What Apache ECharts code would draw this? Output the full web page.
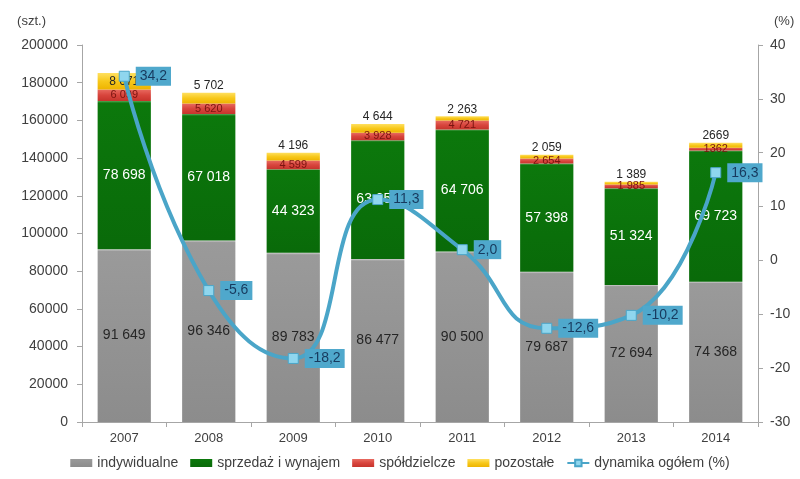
<!DOCTYPE html>
<html>
<head>
<meta charset="utf-8">
<script src="https://cdn.jsdelivr.net/npm/echarts@6/dist/echarts.min.js"></script>
<style>
html,body{margin:0;padding:0;background:#fff;}
#c{width:800px;height:479px;}
</style>
</head>
<body>
<div id="c"></div>
<script>
var years = ['2007','2008','2009','2010','2011','2012','2013','2014'];
var indywidualne = [91649, 96346, 89783, 86477, 90500, 79687, 72694, 74368];
var sprzedaz = [78698, 67018, 44323, 63051, 64706, 57398, 51324, 69723];
var spoldzielcze = [6099, 5620, 4599, 3928, 4721, 2654, 1985, 1362];
var pozostale = [8671, 5702, 4196, 4644, 2263, 2059, 1389, 2669];
var spoldzielczeLabels = ['6 099','5 620','4 599','3 928','4 721','2 654','1 985','1362'];
var pozostaleLabels = ['8 671','5 702','4 196','4 644','2 263','2 059','1 389','2669'];
var dynamika = [34.2, -5.6, -18.2, 11.3, 2.0, -12.6, -10.2, 16.3];
var leftTicks = [0, 20000, 40000, 60000, 80000, 100000, 120000, 140000, 160000, 180000, 200000];
var rightTicks = [-30, -20, -10, 0, 10, 20, 30, 40];

function fmt(v){ return String(v).replace(/\B(?=(\d{3})+(?!\d))/g, ' '); }

var FONT = 'Liberation Sans';
var chart = echarts.init(document.getElementById('c'));
var axisColor = '#a6a6a6';
var txt = '#404040';

var option = {
  backgroundColor: '#fff',
  textStyle: {fontFamily: FONT},
  animation: false,
  grid: {left: 82, right: 42, top: 45, bottom: 57},
  legend: {
    bottom: 4,
    left: 'center',
    itemGap: 12,
    itemWidth: 22,
    itemHeight: 8,
    textStyle: {color: txt, fontSize: 14, fontFamily: FONT},
    data: [
      {name: 'indywidualne', icon: 'rect'},
      {name: 'sprzedaż i wynajem', icon: 'rect'},
      {name: 'spółdzielcze', icon: 'rect'},
      {name: 'pozostałe', icon: 'rect'},
      {name: 'dynamika ogółem (%)'}
    ]
  },
  xAxis: {
    type: 'category',
    data: years,
    axisLine: {lineStyle: {color: axisColor}},
    axisTick: {show: true, lineStyle: {color: axisColor}},
    axisLabel: {color: txt, fontSize: 13, margin: 10}
  },
  yAxis: [
    {
      type: 'value', min: leftTicks[0], max: leftTicks[leftTicks.length-1], interval: leftTicks[1]-leftTicks[0],
      name: '(szt.)', nameLocation: 'end', nameGap: 17,
      nameTextStyle: {color: txt, fontSize: 13, align: 'right', padding: [0, 36, 0, 0]},
      axisLine: {show: true, lineStyle: {color: axisColor}},
      axisTick: {show: true, lineStyle: {color: axisColor}},
      splitLine: {show: false},
      axisLabel: {color: txt, fontSize: 14, margin: 14, formatter: function(v){return String(v);}}
    },
    {
      type: 'value', min: rightTicks[0], max: rightTicks[rightTicks.length-1], interval: 10,
      name: '(%)', nameLocation: 'end', nameGap: 17,
      nameTextStyle: {color: txt, fontSize: 13, align: 'left', padding: [0, 0, 0, 16]},
      axisLine: {show: true, lineStyle: {color: axisColor}},
      axisTick: {show: true, lineStyle: {color: axisColor}},
      splitLine: {show: false},
      axisLabel: {color: txt, fontSize: 14, margin: 12, formatter: function(v){return String(v);}}
    }
  ],
  series: [
    {
      name: 'indywidualne', type: 'bar', stack: 'a', barWidth: '63%',
      data: indywidualne,
      itemStyle: {color: new echarts.graphic.LinearGradient(0,0,0,1,[{offset:0,color:'#d0d0d0'},{offset:0.012,color:'#9a9a9a'},{offset:1,color:'#8c8c8c'}])},
      label: {show: true, position: 'inside', color: '#262626', fontSize: 14, formatter: function(p){return fmt(p.value);}}
    },
    {
      name: 'sprzedaż i wynajem', type: 'bar', stack: 'a',
      data: sprzedaz,
      itemStyle: {color: new echarts.graphic.LinearGradient(0,0,0,1,[{offset:0,color:'#5aa85a'},{offset:0.015,color:'#0c780c'},{offset:1,color:'#096a09'}])},
      label: {show: true, position: 'inside', color: '#ffffff', fontSize: 14, formatter: function(p){return fmt(p.value);}}
    },
    {
      name: 'spółdzielcze', type: 'bar', stack: 'a',
      data: spoldzielcze,
      itemStyle: {color: new echarts.graphic.LinearGradient(0,0,0,1,[{offset:0,color:'#e86a60'},{offset:0.5,color:'#d8453d'},{offset:1,color:'#c6342c'}])},
      label: {show: true, position: 'inside', color: '#7a1410', fontSize: 11, formatter: function(p){return spoldzielczeLabels[p.dataIndex];}}
    },
    {
      name: 'pozostałe', type: 'bar', stack: 'a',
      data: pozostale.map(function(v, i){
        return i === 0 ? {value: v, label: {position: 'inside'}} : v;
      }),
      itemStyle: {color: new echarts.graphic.LinearGradient(0,0,0,1,[{offset:0,color:'#ffe060'},{offset:0.5,color:'#f7c81b'},{offset:1,color:'#eeb400'}])},
      label: {show: true, position: 'top', distance: 1, color: '#262626', fontSize: 12, formatter: function(p){return pozostaleLabels[p.dataIndex];}}
    },
    {
      name: 'dynamika ogółem (%)', type: 'line', yAxisIndex: 1, smooth: true, z: 10,
      data: dynamika,
      lineStyle: {color: '#4aa5c8', width: 4},
      symbol: 'rect', symbolSize: 10,
      itemStyle: {color: '#8fd6ee', borderColor: '#4aa5c8', borderWidth: 1},
      label: {
        show: true, position: 'right', distance: 6,
        color: '#173a5e', fontSize: 14,
        backgroundColor: '#4fa8cc', padding: [3, 4, 2, 4],
        formatter: function(p){return p.value.toFixed(1).replace('.', ',');}
      }
    }
  ]
};
chart.setOption(option);
</script>
</body>
</html>
